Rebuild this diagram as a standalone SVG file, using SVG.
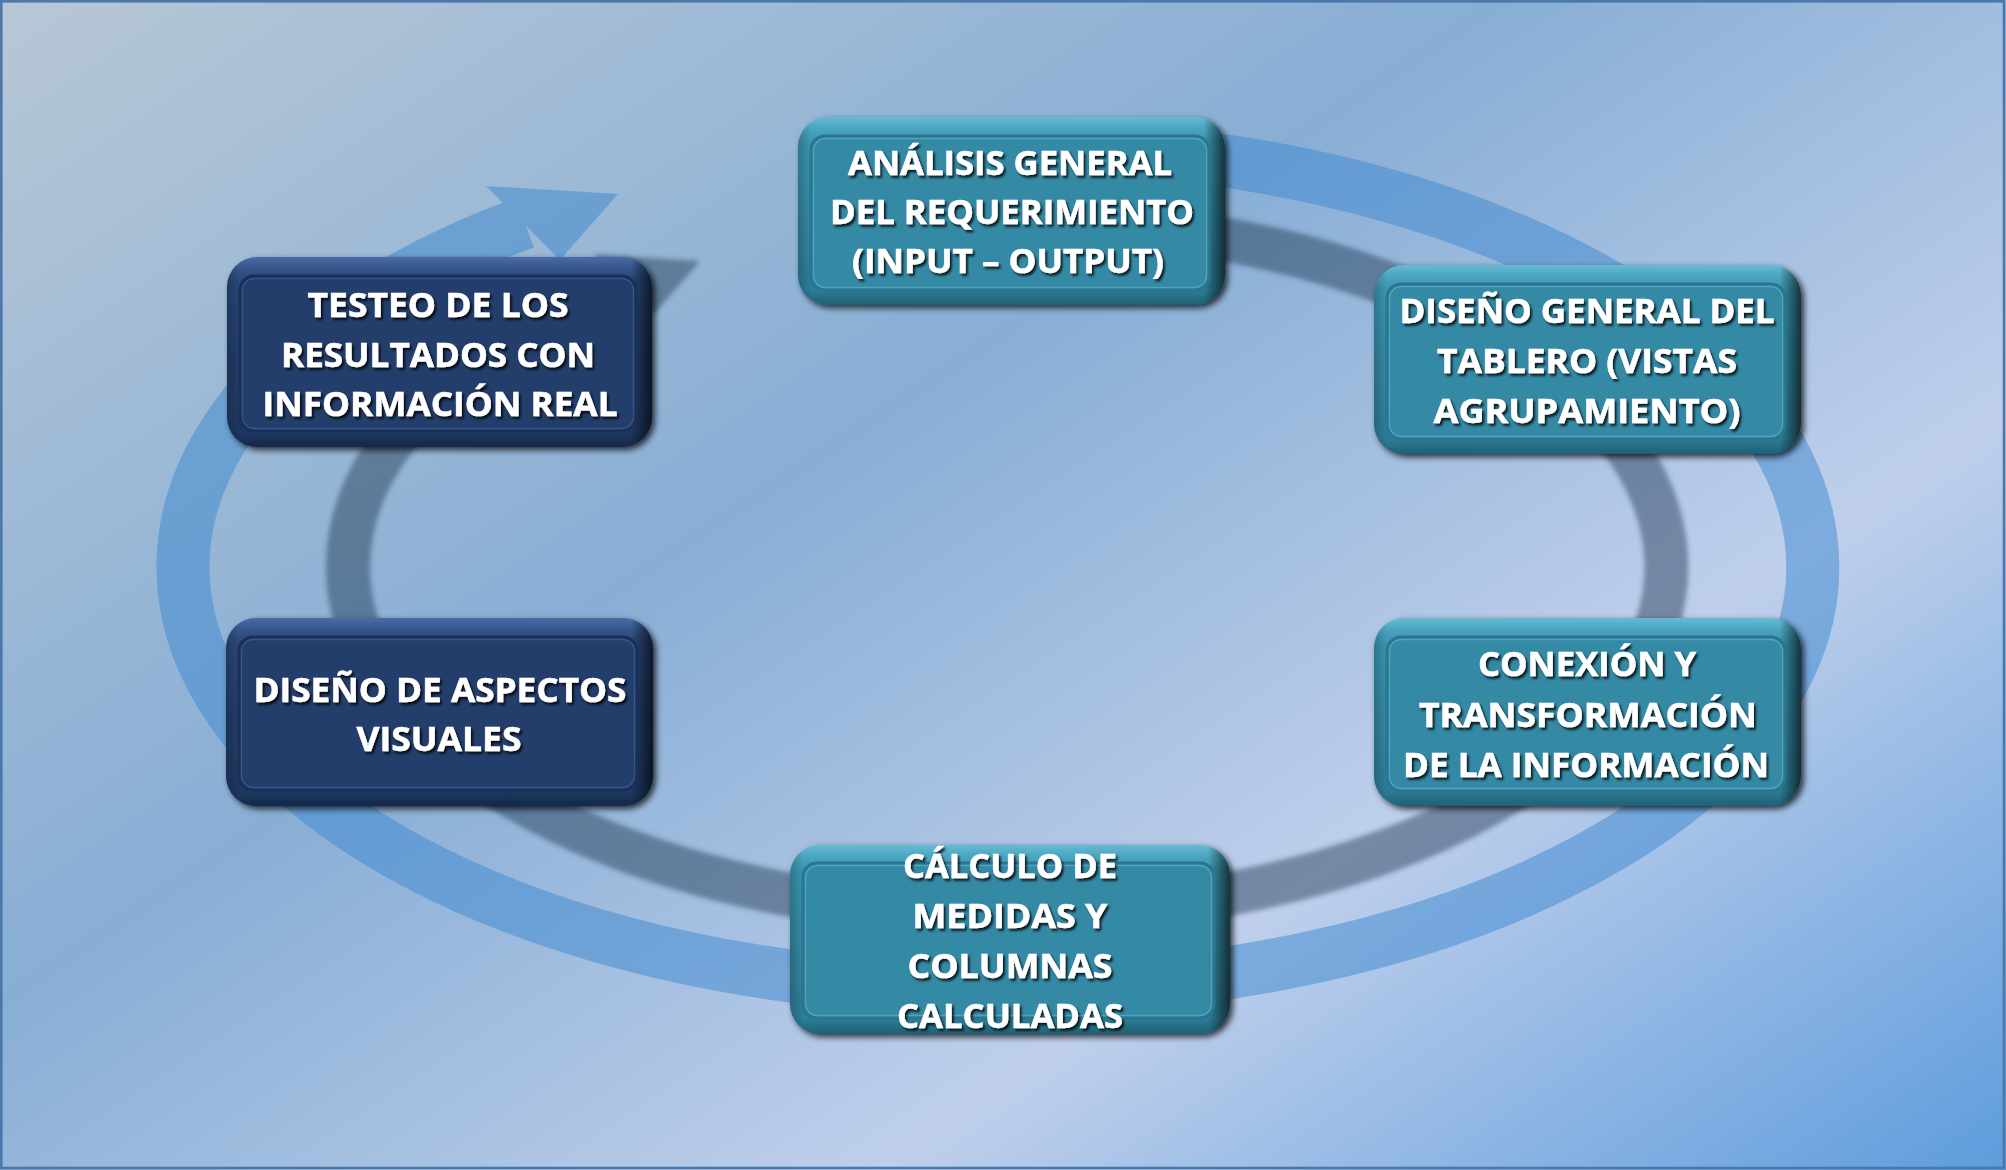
<svg xmlns="http://www.w3.org/2000/svg" width="2006" height="1170" viewBox="0 0 2006 1170">
<defs>
<linearGradient id="bg" gradientUnits="userSpaceOnUse" x1="0" y1="0" x2="1158" y2="1736">
<stop offset="0" stop-color="#b7c7d6"/>
<stop offset="0.4" stop-color="#88aed5"/>
<stop offset="0.7" stop-color="#bfcfeb"/>
<stop offset="1" stop-color="#5d9cdd"/>
</linearGradient>
<linearGradient id="tealOuter" x1="0" y1="0" x2="0" y2="1">
<stop offset="0" stop-color="#66bbd3"/>
<stop offset="0.06" stop-color="#4aa5c0"/>
<stop offset="0.13" stop-color="#3b95b0"/>
<stop offset="0.5" stop-color="#3489a3"/>
<stop offset="0.92" stop-color="#2d7d97"/>
<stop offset="1" stop-color="#1f6075"/>
</linearGradient>
<linearGradient id="navyOuter" x1="0" y1="0" x2="0" y2="1">
<stop offset="0" stop-color="#4a6ba6"/>
<stop offset="0.06" stop-color="#35558a"/>
<stop offset="0.13" stop-color="#2a4679"/>
<stop offset="0.5" stop-color="#233e6b"/>
<stop offset="0.92" stop-color="#1f3861"/>
<stop offset="1" stop-color="#15284a"/>
</linearGradient>
<linearGradient id="rimShade" x1="0" y1="0" x2="1" y2="0">
<stop offset="0" stop-color="#000" stop-opacity="0.2"/>
<stop offset="0.03" stop-color="#000" stop-opacity="0"/>
<stop offset="0.95" stop-color="#000" stop-opacity="0"/>
<stop offset="1" stop-color="#000" stop-opacity="0.65"/>
</linearGradient>
<filter id="boxShadow" x="-10%" y="-10%" width="125%" height="130%">
<feGaussianBlur in="SourceAlpha" stdDeviation="3"/>
<feOffset dx="3" dy="3" result="b"/>
<feFlood flood-color="#000" flood-opacity="0.75"/>
<feComposite in2="b" operator="in"/>
<feMerge><feMergeNode/><feMergeNode in="SourceGraphic"/></feMerge>
</filter>
<filter id="textShadow" x="-10%" y="-30%" width="125%" height="170%">
<feDropShadow dx="2" dy="2.5" stdDeviation="1.3" flood-color="#000" flood-opacity="0.8"/>
</filter>
<filter id="soft" x="-10%" y="-10%" width="120%" height="120%">
<feGaussianBlur stdDeviation="2.5"/>
</filter>
<style>
.ring{fill:none;stroke:#3c88cf;stroke-width:53}
.ringHead{fill:#3c88cf}
.shadowRing{fill:none;stroke:#1e3650;stroke-width:44}
.shadowHead{fill:#1e3650}
.outer{filter:url(#boxShadow)}
.teal .outer{fill:url(#tealOuter)}
.navy .outer{fill:url(#navyOuter)}
.shade{fill:url(#rimShade)}
.teal .inner{fill:#3489a4;stroke:#2a7590;stroke-width:3}
.teal .innerLine{fill:none;stroke:#5aabc3;stroke-width:1.3;stroke-opacity:0.8}
.navy .inner{fill:#233e6b;stroke:#1a3059;stroke-width:3}
.navy .innerLine{fill:none;stroke:#3d5d92;stroke-width:1.3;stroke-opacity:0.8}
text{font-family:"Open Sans","Liberation Sans",sans-serif;font-weight:700;font-size:34px;fill:#ffffff;stroke:#ffffff;stroke-width:0.5;text-anchor:middle;filter:url(#textShadow)}
</style>
</defs>
<rect x="0" y="0" width="2006" height="1170" fill="url(#bg)"/>
<rect x="1.3" y="1.3" width="2002.7" height="1166.7" fill="none" stroke="#4a78ab" stroke-width="2.6"/>
<g id="connectors">
<g id="shadow" opacity="0.45" filter="url(#soft)">
<path class="shadowRing" d="M915.3,223.4 A659,347 0 1 1 1007,914 A659,347 0 0 1 624.3,284.5"/>
<polygon class="shadowHead" points="593,254.5 700,261 653,315"/>
</g>
<g id="cycle-arrow" opacity="0.5">
<path class="ring" d="M884.6,148.1 A815,423 0 1 1 998,990 A815,423 0 0 1 524.7,222.6"/>
<polygon class="ringHead" points="486,186 618,194 560,260"/>
</g>
</g>
<g id="n1" class="teal">
<rect class="outer" x="798" y="117" width="427" height="188" rx="30"/>
<rect class="shade" x="798" y="117" width="427" height="188" rx="30"/>
<rect class="inner" x="811" y="136" width="398" height="154" rx="14"/>
<rect class="innerLine" x="813.5" y="138.5" width="393" height="149" rx="12"/>
<text x="1010" y="175" textLength="324" lengthAdjust="spacingAndGlyphs">ANÁLISIS GENERAL</text>
<text x="1012" y="224" textLength="364" lengthAdjust="spacingAndGlyphs">DEL REQUERIMIENTO</text>
<text x="1008" y="273" textLength="312" lengthAdjust="spacingAndGlyphs">(INPUT – OUTPUT)</text>
</g>
<g id="n2" class="teal">
<rect class="outer" x="1374" y="265" width="427" height="189" rx="30"/>
<rect class="shade" x="1374" y="265" width="427" height="189" rx="30"/>
<rect class="inner" x="1387" y="284" width="398" height="155" rx="14"/>
<rect class="innerLine" x="1389.5" y="286.5" width="393" height="150" rx="12"/>
<text x="1587" y="323" textLength="375" lengthAdjust="spacingAndGlyphs">DISEÑO GENERAL DEL</text>
<text x="1587" y="373" textLength="300" lengthAdjust="spacingAndGlyphs">TABLERO (VISTAS</text>
<text x="1587" y="423" textLength="307" lengthAdjust="spacingAndGlyphs">AGRUPAMIENTO)</text>
</g>
<g id="n3" class="teal">
<rect class="outer" x="1374" y="618" width="427" height="188" rx="30"/>
<rect class="shade" x="1374" y="618" width="427" height="188" rx="30"/>
<rect class="inner" x="1387" y="637" width="398" height="154" rx="14"/>
<rect class="innerLine" x="1389.5" y="639.5" width="393" height="149" rx="12"/>
<text x="1587" y="676" textLength="218" lengthAdjust="spacingAndGlyphs">CONEXIÓN Y</text>
<text x="1588" y="727" textLength="338" lengthAdjust="spacingAndGlyphs">TRANSFORMACIÓN</text>
<text x="1586" y="777" textLength="366" lengthAdjust="spacingAndGlyphs">DE LA INFORMACIÓN</text>
</g>
<g id="n4" class="teal">
<rect class="outer" x="790" y="845" width="440" height="189" rx="30"/>
<rect class="shade" x="790" y="845" width="440" height="189" rx="30"/>
<rect class="inner" x="803" y="863" width="411" height="155" rx="14"/>
<rect class="innerLine" x="805.5" y="865.5" width="406" height="150" rx="12"/>
<text x="1010" y="878" textLength="214" lengthAdjust="spacingAndGlyphs">CÁLCULO DE</text>
<text x="1010" y="928" textLength="195" lengthAdjust="spacingAndGlyphs">MEDIDAS Y</text>
<text x="1010" y="978" textLength="205" lengthAdjust="spacingAndGlyphs">COLUMNAS</text>
<text x="1010" y="1028" textLength="226" lengthAdjust="spacingAndGlyphs">CALCULADAS</text>
</g>
<g id="n5" class="navy">
<rect class="outer" x="226" y="618" width="427" height="188" rx="30"/>
<rect class="shade" x="226" y="618" width="427" height="188" rx="30"/>
<rect class="inner" x="239" y="637" width="398" height="153" rx="14"/>
<rect class="innerLine" x="241.5" y="639.5" width="393" height="148" rx="12"/>
<text x="440" y="702" textLength="373" lengthAdjust="spacingAndGlyphs">DISEÑO DE ASPECTOS</text>
<text x="439" y="751" textLength="165" lengthAdjust="spacingAndGlyphs">VISUALES</text>
</g>
<g id="n6" class="navy">
<rect class="outer" x="227" y="257" width="425" height="190" rx="30"/>
<rect class="shade" x="227" y="257" width="425" height="190" rx="30"/>
<rect class="inner" x="240" y="276" width="396" height="155" rx="14"/>
<rect class="innerLine" x="242.5" y="278.5" width="391" height="150" rx="12"/>
<text x="438" y="317" textLength="261" lengthAdjust="spacingAndGlyphs">TESTEO DE LOS</text>
<text x="438" y="367" textLength="314" lengthAdjust="spacingAndGlyphs">RESULTADOS CON</text>
<text x="440" y="416" textLength="355" lengthAdjust="spacingAndGlyphs">INFORMACIÓN REAL</text>
</g>
</svg>
